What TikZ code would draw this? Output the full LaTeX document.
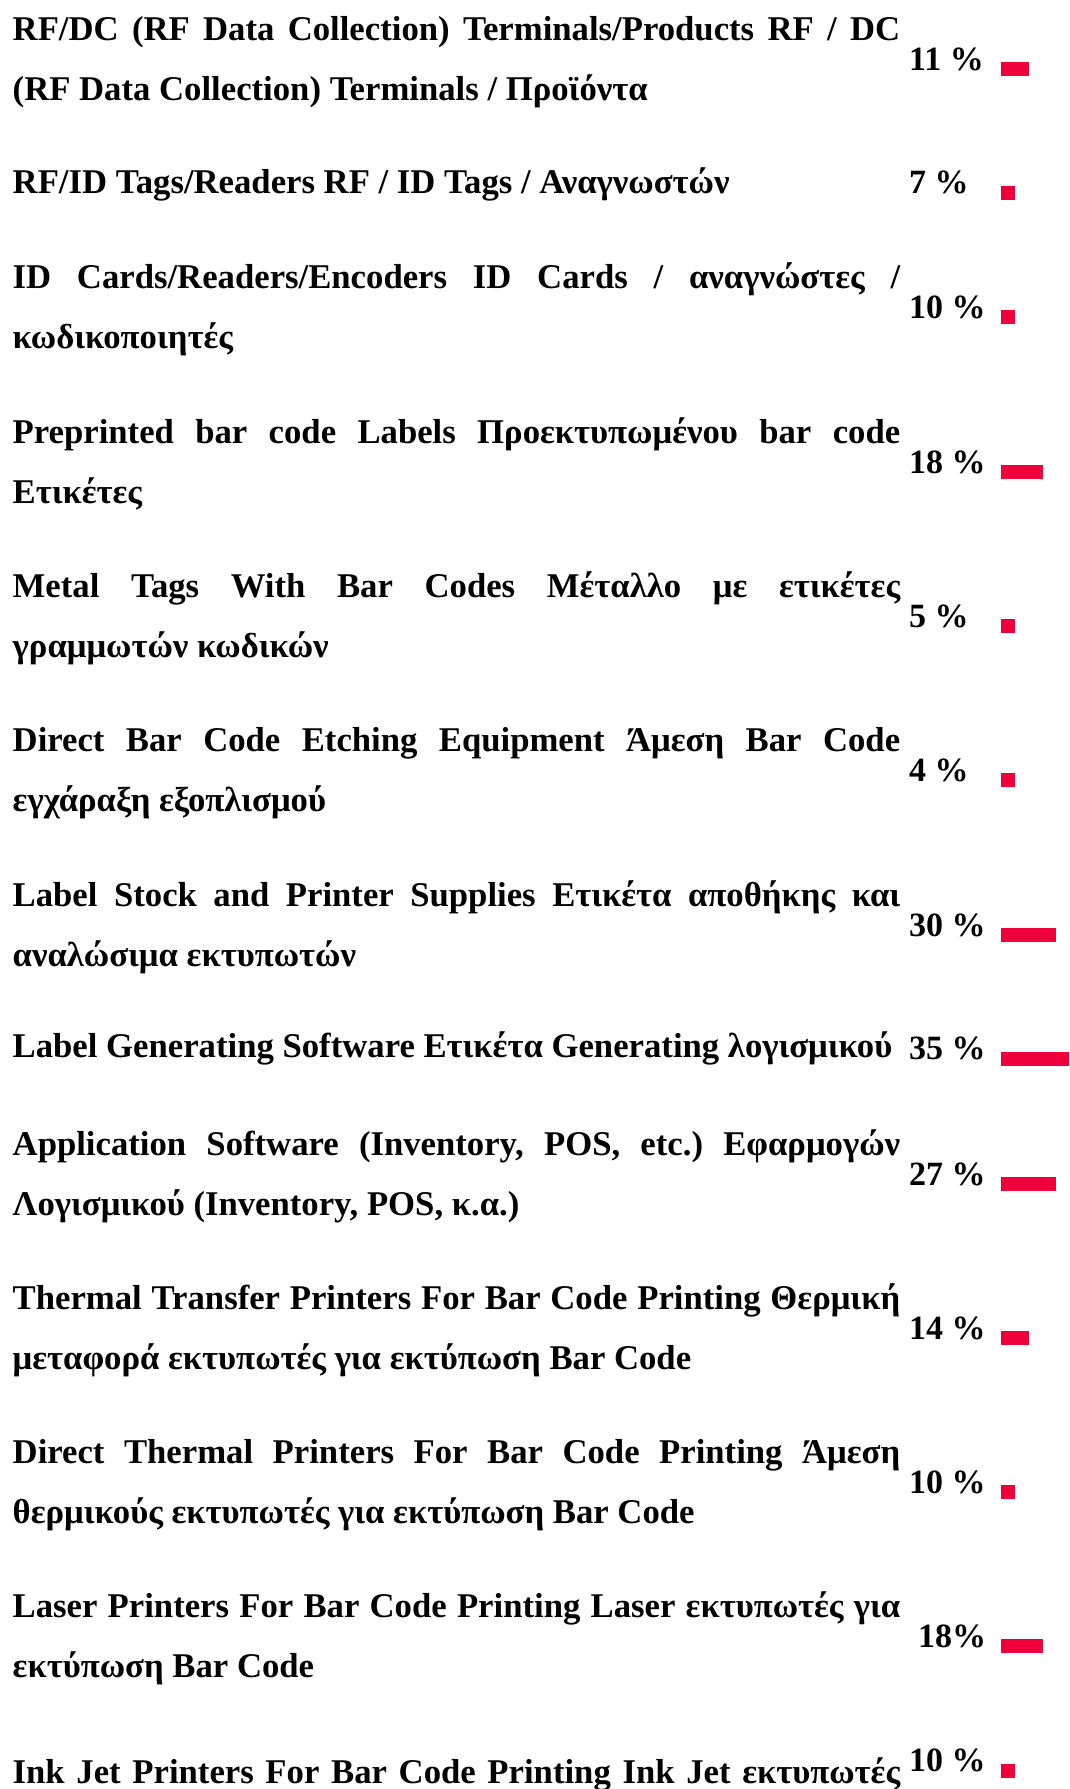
\documentclass[tikz,border=0pt]{standalone}
\usepackage{fontspec}
\setmainfont{Liberation Serif}
\definecolor{barred}{RGB}{240,0,58}
\tikzset{
  lbl/.style={anchor=base west, inner sep=0pt, font=\bfseries\fontsize{34.7}{40}\selectfont\frenchspacing},
  pct/.style={anchor=base west, inner sep=0pt, font=\bfseries\fontsize{34}{40}\selectfont},
  barbox/.style={fill=barred, draw=none, anchor=west, inner sep=0pt, minimum height=14.7pt},
}
\newcommand\jline[1]{\makebox[887.5pt][s]{#1}}
\begin{document}
\begin{tikzpicture}[x=1pt,y=-1pt]
\useasboundingbox (0,0) rectangle (1069,1789);
\fill[white] (0,0) rectangle (1069,1789);
% Row 1
\node[lbl] (r1a) at (12.5,40) {\jline{RF/DC (RF Data Collection) Terminals/Products RF / DC}};
\node[lbl] (r1b) at (12.5,100) {(RF Data Collection) Terminals / Προϊόντα};
\node[pct] (p1) at (909,70) {11 \%};
\node[barbox, minimum width=28pt] (b1) at (1001,69) {};
% Row 2
\node[lbl] (r2a) at (12.5,193) {RF/ID Tags/Readers RF / ID Tags / Αναγνωστών};
\node[pct] (p2) at (909,193) {7 \%};
\node[barbox, minimum width=14pt] (b2) at (1001,193) {};
% Row 3
\node[lbl] (r3a) at (12.5,288) {\jline{ID Cards/Readers/Encoders ID Cards / αναγνώστες /}};
\node[lbl] (r3b) at (12.5,348) {κωδικοποιητές};
\node[pct] (p3) at (909,318) {10 \%};
\node[barbox, minimum width=14pt] (b3) at (1001,317) {};
% Row 4
\node[lbl] (r4a) at (12.5,443) {\jline{Preprinted bar code Labels Προεκτυπωμένου bar code}};
\node[lbl] (r4b) at (12.5,503) {Ετικέτες};
\node[pct] (p4) at (909,473) {18 \%};
\node[barbox, minimum width=42pt] (b4) at (1001,472) {};
% Row 5
\node[lbl] (r5a) at (12.5,597) {\jline{Metal Tags With Bar Codes Μέταλλο με ετικέτες}};
\node[lbl] (r5b) at (12.5,657) {γραμμωτών κωδικών};
\node[pct] (p5) at (909,627) {5 \%};
\node[barbox, minimum width=14pt] (b5) at (1001,626) {};
% Row 6
\node[lbl] (r6a) at (12.5,751) {\jline{Direct Bar Code Etching Equipment Άμεση Bar Code}};
\node[lbl] (r6b) at (12.5,811) {εγχάραξη εξοπλισμού};
\node[pct] (p6) at (909,781) {4 \%};
\node[barbox, minimum width=14pt] (b6) at (1001,780) {};
% Row 7
\node[lbl] (r7a) at (12.5,906) {\jline{Label Stock and Printer Supplies Ετικέτα αποθήκης και}};
\node[lbl] (r7b) at (12.5,966) {αναλώσιμα εκτυπωτών};
\node[pct] (p7) at (909,936) {30 \%};
\node[barbox, minimum width=55pt] (b7) at (1001,935) {};
% Row 8
\node[lbl] (r8a) at (12.5,1057) {Label Generating Software Ετικέτα Generating λογισμικού};
\node[pct] (p8) at (909,1059) {35 \%};
\node[barbox, minimum width=68pt] (b8) at (1001,1059) {};
% Row 9
\node[lbl] (r9a) at (12.5,1155) {\jline{Application Software (Inventory, POS, etc.) Εφαρμογών}};
\node[lbl] (r9b) at (12.5,1215) {Λογισμικού (Inventory, POS, κ.α.)};
\node[pct] (p9) at (909,1185) {27 \%};
\node[barbox, minimum width=55pt] (b9) at (1001,1184) {};
% Row 10
\node[lbl] (r10a) at (12.5,1309) {\jline{Thermal Transfer Printers For Bar Code Printing Θερμική}};
\node[lbl] (r10b) at (12.5,1369) {μεταφορά εκτυπωτές για εκτύπωση Bar Code};
\node[pct] (p10) at (909,1339) {14 \%};
\node[barbox, minimum width=28pt] (b10) at (1001,1338) {};
% Row 11
\node[lbl] (r11a) at (12.5,1463) {\jline{Direct Thermal Printers For Bar Code Printing Άμεση}};
\node[lbl] (r11b) at (12.5,1523) {θερμικούς εκτυπωτές για εκτύπωση Bar Code};
\node[pct] (p11) at (909,1493) {10 \%};
\node[barbox, minimum width=14pt] (b11) at (1001,1492) {};
% Row 12
\node[lbl] (r12a) at (12.5,1617) {\jline{Laser Printers For Bar Code Printing Laser εκτυπωτές για}};
\node[lbl] (r12b) at (12.5,1677) {εκτύπωση Bar Code};
\node[pct] (p12) at (918,1647) {18\%};
\node[barbox, minimum width=42pt] (b12) at (1001,1646) {};
% Row 13
\node[lbl] (r13a) at (12.5,1783) {\jline{Ink Jet Printers For Bar Code Printing Ink Jet εκτυπωτές}};
\node[pct] (p13) at (909,1771) {10 \%};
\node[barbox, minimum width=14pt] (b13) at (1001,1771) {};
\end{tikzpicture}
\end{document}
